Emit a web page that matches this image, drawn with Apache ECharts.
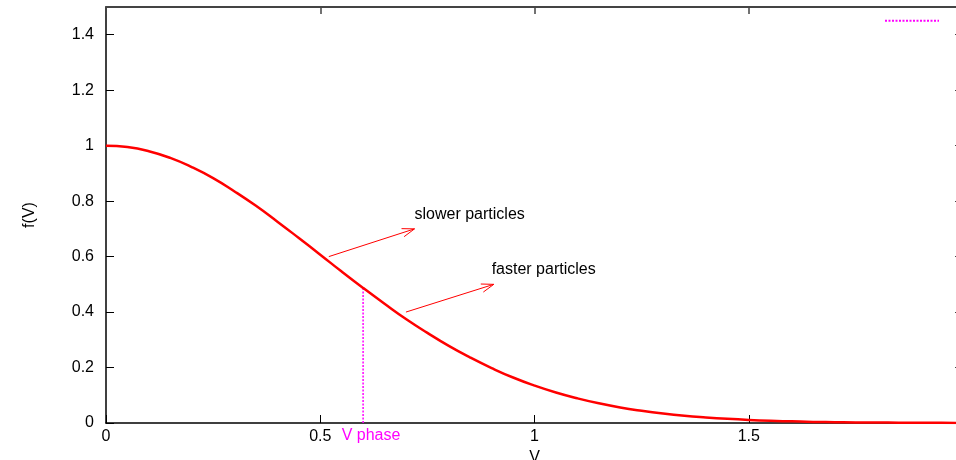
<!DOCTYPE html>
<html>
<head>
<meta charset="utf-8">
<style>
  html, body { margin: 0; padding: 0; background: #fff; }
  #chart { width: 956px; height: 460px; }
</style>
<script src="https://cdn.jsdelivr.net/npm/echarts@6/dist/echarts.min.js"></script>
</head>
<body>
<div id="chart"></div>
<script>
// distribution f(V)
var vValues = [0, 0.05, 0.1, 0.15, 0.2, 0.25, 0.3, 0.35, 0.4, 0.45, 0.5, 0.55, 0.6, 0.65, 0.7,
  0.75, 0.8, 0.85, 0.9, 0.95, 1.0, 1.05, 1.1, 1.15, 1.2, 1.25, 1.3, 1.35, 1.4, 1.45, 1.5,
  1.55, 1.6, 1.65, 1.7, 1.75, 1.8, 1.85, 1.9, 1.95, 2.0];
var fValues = [1, 0.995, 0.980, 0.956, 0.923, 0.883, 0.835, 0.783, 0.726, 0.667, 0.607, 0.546, 0.487, 0.430, 0.375,
  0.325, 0.278, 0.236, 0.198, 0.164, 0.135, 0.110, 0.089, 0.071, 0.056, 0.044, 0.034, 0.026, 0.020, 0.015, 0.011,
  0.008, 0.006, 0.004, 0.003, 0.002, 0.002, 0.001, 0.001, 0.0005, 0.0003];

// V phase marker
var phaseV = [0.6, 0.6];
var phaseF = [0, 0.487];

// arrows: start x, start y, end x, end y
var arrowFrom = [[0.52, 0.60], [0.70, 0.40]];
var arrowTo = [[0.72, 0.70], [0.905, 0.50]];

// text labels
var labelText = ['slower particles', 'faster particles', 'V phase'];
var labelX = [0.72, 0.90, 0.55];
var labelY = [0.75, 0.552, -0.047];
var labelColor = ['#000', '#000', '#ff00ff'];

var FONT = '"Liberation Sans", Arial, sans-serif';
var FS = 16;

var chart = echarts.init(document.getElementById('chart'));

var curveData = vValues.map(function (v, i) { return [v, fValues[i]]; });
var phaseData = phaseV.map(function (v, i) { return [v, phaseF[i]]; });
var arrowData = arrowFrom.map(function (p, i) { return [p[0], p[1], arrowTo[i][0], arrowTo[i][1]]; });
var labelData = labelText.map(function (t, i) { return [labelX[i], labelY[i], i]; });

function renderArrow(params, api) {
  var a = api.coord([api.value(0), api.value(1)]);
  var b = api.coord([api.value(2), api.value(3)]);
  var ang = Math.atan2(b[1] - a[1], b[0] - a[0]);
  var len = 13, spread = 0.33;
  var h1 = [b[0] - len * Math.cos(ang - spread), b[1] - len * Math.sin(ang - spread)];
  var h2 = [b[0] - len * Math.cos(ang + spread), b[1] - len * Math.sin(ang + spread)];
  var st = { stroke: '#ff0000', lineWidth: 1 };
  return {
    type: 'group',
    children: [
      { type: 'line', shape: { x1: a[0], y1: a[1], x2: b[0], y2: b[1] }, style: st },
      { type: 'line', shape: { x1: h1[0], y1: h1[1], x2: b[0], y2: b[1] }, style: st },
      { type: 'line', shape: { x1: h2[0], y1: h2[1], x2: b[0], y2: b[1] }, style: st }
    ]
  };
}

function renderLabel(params, api) {
  var p = api.coord([api.value(0), api.value(1)]);
  var i = api.value(2);
  return {
    type: 'text',
    x: p[0],
    y: p[1],
    style: {
      text: labelText[i],
      fill: labelColor[i],
      font: FS + 'px ' + FONT,
      align: 'left',
      verticalAlign: 'middle'
    }
  };
}

var option = {
  backgroundColor: '#ffffff',
  animation: false,
  grid: { left: 106, right: -7, top: 7, bottom: 37, containLabel: false, outerBoundsMode: 'none' },
  legend: {
    data: [{ name: ' ', itemStyle: { opacity: 0 } }],
    left: 884,
    top: 16,
    padding: 0,
    itemWidth: 54,
    itemHeight: 12,
    itemGap: 0,
    textStyle: { fontSize: 1 },
    selectedMode: false
  },
  xAxis: [{
    type: 'value',
    min: 0, max: 2, interval: 0.5,
    name: 'V',
    nameLocation: 'middle',
    nameGap: 21,
    nameTextStyle: { fontFamily: FONT, fontSize: FS, color: '#000' },
    axisLine: { show: true, onZero: false, lineStyle: { color: '#000', width: 1.5 } },
    axisTick: { inside: true, length: 8, lineStyle: { color: '#000' } },
    axisLabel: { fontFamily: FONT, fontSize: FS, color: '#000', margin: 6, showMaxLabel: false },
    splitLine: { show: false }
  }, {
    type: 'value',
    position: 'top',
    min: 0, max: 2, interval: 0.5,
    axisLine: { show: true, onZero: false, lineStyle: { color: '#444', width: 2 } },
    axisTick: { inside: true, length: 7, lineStyle: { color: '#444', width: 1.5 } },
    axisLabel: { show: false },
    splitLine: { show: false }
  }],
  yAxis: [{
    type: 'value',
    min: 0, max: 1.5, interval: 0.2,
    name: 'f(V)',
    nameLocation: 'middle',
    nameGap: 68,
    nameRotate: 90,
    nameTextStyle: { fontFamily: FONT, fontSize: FS, color: '#000' },
    axisLine: { show: true, onZero: false, lineStyle: { color: '#000', width: 1.5 } },
    axisTick: { inside: true, length: 8, lineStyle: { color: '#000' } },
    axisLabel: { fontFamily: FONT, fontSize: FS, color: '#000', margin: 12, showMaxLabel: false },
    splitLine: { show: false }
  }, {
    type: 'value',
    position: 'right',
    min: 0, max: 1.5, interval: 0.2,
    axisLine: { show: true, onZero: false, lineStyle: { color: '#444', width: 1.5 } },
    axisTick: { inside: true, length: 8, lineStyle: { color: '#444' } },
    axisLabel: { show: false },
    splitLine: { show: false }
  }],
  series: [{
    name: 'f',
    type: 'line',
    data: curveData,
    smooth: true,
    showSymbol: false,
    lineStyle: { color: '#ff0000', width: 2.5 },
    itemStyle: { color: '#ff0000' },
    z: 3
  }, {
    name: ' ',
    type: 'line',
    data: phaseData,
    symbol: 'none',
    symbolSize: 0,
    lineStyle: { color: '#ff00ff', width: 1.5, type: [2, 1.5] },
    itemStyle: { color: '#ff00ff' },
    z: 2
  }, {
    name: 'arrows',
    type: 'custom',
    renderItem: renderArrow,
    data: arrowData,
    encode: { x: [0, 2], y: [1, 3] },
    z: 4
  }, {
    name: 'labels',
    type: 'custom',
    renderItem: renderLabel,
    data: labelData,
    encode: { x: 0, y: 1 },
    clip: false,
    z: 5
  }]
};

chart.setOption(option);
</script>
</body>
</html>
